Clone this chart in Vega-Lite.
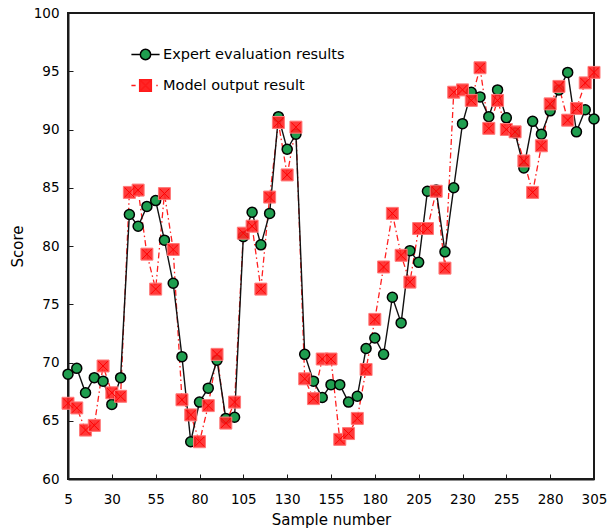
{
  "$schema": "https://vega.github.io/schema/vega-lite/v6.json",
  "width": 526,
  "height": 466,
  "autosize": {"type": "none"},
  "padding": {"left": 68, "top": 13, "right": 13, "bottom": 50},
  "background": "white",
  "config": {
    "view": {"stroke": "#1a1a1a", "strokeWidth": 2},
    "font": "DejaVu Sans",
    "axis": {
      "domainColor": "#1a1a1a", "domainWidth": 2, "tickColor": "#1a1a1a", "tickSize": -5, "tickWidth": 1,
      "grid": false, "labelFont": "DejaVu Sans", "labelFontSize": 13.5, "labelColor": "#000",
      "titleFont": "DejaVu Sans", "titleFontSize": 15, "titleFontWeight": "normal", "titleColor": "#000",
      "labelFlush": false, "labelOverlap": false
    },
    "axisX": {"labelPadding": 18, "titlePadding": 7},
    "axisY": {"labelPadding": 14, "titlePadding": 8},
    "legend": {
      "orient": "none", "legendX": 67, "legendY": 31, "symbolSize": 353, "labelOffset": 7,
      "rowPadding": 12, "labelFontSize": 14.5, "labelFont": "DejaVu Sans", "labelColor": "#000",
      "symbolStrokeWidth": 1.5, "padding": 0, "labelLimit": 0
    }
  },
  "datasets": {
    "scores": [
      {"sample": 5, "expert": 69.0, "model": 66.5},
      {"sample": 10, "expert": 69.5, "model": 66.1},
      {"sample": 15, "expert": 67.4, "model": 64.2},
      {"sample": 20, "expert": 68.7, "model": 64.6},
      {"sample": 25, "expert": 68.4, "model": 69.7},
      {"sample": 30, "expert": 66.4, "model": 67.4},
      {"sample": 35, "expert": 68.7, "model": 67.1},
      {"sample": 40, "expert": 82.7, "model": 84.6},
      {"sample": 45, "expert": 81.7, "model": 84.8},
      {"sample": 50, "expert": 83.4, "model": 79.3},
      {"sample": 55, "expert": 83.9, "model": 76.3},
      {"sample": 60, "expert": 80.5, "model": 84.5},
      {"sample": 65, "expert": 76.8, "model": 79.7},
      {"sample": 70, "expert": 70.5, "model": 66.8},
      {"sample": 75, "expert": 63.2, "model": 65.5},
      {"sample": 80, "expert": 66.6, "model": 63.2},
      {"sample": 85, "expert": 67.8, "model": 66.3},
      {"sample": 90, "expert": 70.2, "model": 70.7},
      {"sample": 95, "expert": 65.2, "model": 64.8},
      {"sample": 100, "expert": 65.3, "model": 66.6},
      {"sample": 105, "expert": 80.8, "model": 81.1},
      {"sample": 110, "expert": 82.9, "model": 81.7},
      {"sample": 115, "expert": 80.1, "model": 76.3},
      {"sample": 120, "expert": 82.8, "model": 84.2},
      {"sample": 125, "expert": 91.1, "model": 90.6},
      {"sample": 130, "expert": 88.3, "model": 86.1},
      {"sample": 135, "expert": 89.6, "model": 90.2},
      {"sample": 140, "expert": 70.7, "model": 68.6},
      {"sample": 145, "expert": 68.4, "model": 66.9},
      {"sample": 150, "expert": 67.0, "model": 70.3},
      {"sample": 155, "expert": 68.1, "model": 70.3},
      {"sample": 160, "expert": 68.1, "model": 63.4},
      {"sample": 165, "expert": 66.6, "model": 63.9},
      {"sample": 170, "expert": 67.1, "model": 65.2},
      {"sample": 175, "expert": 71.2, "model": 69.4},
      {"sample": 180, "expert": 72.1, "model": 73.7},
      {"sample": 185, "expert": 70.7, "model": 78.2},
      {"sample": 190, "expert": 75.6, "model": 82.8},
      {"sample": 195, "expert": 73.4, "model": 79.2},
      {"sample": 200, "expert": 79.6, "model": 76.9},
      {"sample": 205, "expert": 78.6, "model": 81.5},
      {"sample": 210, "expert": 84.7, "model": 81.5},
      {"sample": 215, "expert": 84.8, "model": 84.7},
      {"sample": 220, "expert": 79.5, "model": 78.1},
      {"sample": 225, "expert": 85.0, "model": 93.2},
      {"sample": 230, "expert": 90.5, "model": 93.4},
      {"sample": 235, "expert": 93.2, "model": 92.5},
      {"sample": 240, "expert": 92.8, "model": 95.3},
      {"sample": 245, "expert": 91.1, "model": 90.1},
      {"sample": 250, "expert": 93.4, "model": 92.5},
      {"sample": 255, "expert": 91.0, "model": 90.0},
      {"sample": 260, "expert": 89.7, "model": 89.8},
      {"sample": 265, "expert": 86.7, "model": 87.3},
      {"sample": 270, "expert": 90.7, "model": 84.6},
      {"sample": 275, "expert": 89.6, "model": 88.6},
      {"sample": 280, "expert": 91.6, "model": 92.2},
      {"sample": 285, "expert": 93.4, "model": 93.7},
      {"sample": 290, "expert": 94.9, "model": 90.8},
      {"sample": 295, "expert": 89.8, "model": 91.8},
      {"sample": 300, "expert": 91.7, "model": 94.0},
      {"sample": 305, "expert": 90.9, "model": 94.9}
    ],
    "legend": [
      {"series": "Expert evaluation results"},
      {"series": "Model output result"}
    ]
  },
  "layer": [
    {
      "data": {"name": "scores"},
      "mark": {"type": "line", "color": "#ff1f1f", "strokeDash": [6, 3, 1.5, 3], "strokeWidth": 1.3},
      "encoding": {
        "x": {"field": "sample", "type": "quantitative", "title": "Sample number", "scale": {"domain": [5, 305], "nice": false, "zero": false}, "axis": {"values": [5, 30, 55, 80, 105, 130, 155, 180, 205, 230, 255, 280, 305]}},
        "y": {"field": "model", "type": "quantitative", "title": "Score", "scale": {"domain": [60, 100], "nice": false, "zero": false}, "axis": {"values": [60, 65, 70, 75, 80, 85, 90, 95, 100]}}
      }
    },
    {
      "data": {"name": "scores"},
      "mark": {"type": "line", "color": "#111111", "strokeWidth": 1.4},
      "encoding": {
        "x": {"field": "sample", "type": "quantitative", "title": "Sample number"},
        "y": {"field": "expert", "type": "quantitative", "title": "Score"}
      }
    },
    {
      "data": {"name": "scores"},
      "mark": {"type": "point", "shape": "circle", "size": 100, "filled": true, "fill": "#1f9e4f", "stroke": "#000000", "strokeWidth": 1.5, "opacity": 1},
      "encoding": {
        "x": {"field": "sample", "type": "quantitative", "title": "Sample number"},
        "y": {"field": "expert", "type": "quantitative", "title": "Score"}
      }
    },
    {
      "data": {"name": "scores"},
      "mark": {"type": "point", "shape": "square", "size": 144, "filled": true, "fill": "#ff2626", "fillOpacity": 0.9, "stroke": "#ff7a7a", "strokeWidth": 1, "opacity": 1},
      "encoding": {
        "x": {"field": "sample", "type": "quantitative", "title": "Sample number"},
        "y": {"field": "model", "type": "quantitative", "title": "Score"}
      }
    },
    {
      "data": {"name": "scores"},
      "mark": {"type": "point", "shape": "M-1,-1L1,1M-1,1L1,-1", "size": 90, "filled": false, "stroke": "#ff0000", "strokeWidth": 1, "opacity": 1},
      "encoding": {
        "x": {"field": "sample", "type": "quantitative", "title": "Sample number"},
        "y": {"field": "model", "type": "quantitative", "title": "Score"}
      }
    },
    {
      "data": {"name": "legend"},
      "transform": [{"filter": "datum.series == 'none'"}],
      "mark": {"type": "point", "filled": true, "size": 353, "strokeWidth": 1.5, "opacity": 1},
      "encoding": {
        "shape": {"field": "series", "type": "nominal", "title": null, "scale": {"domain": ["Expert evaluation results", "Model output result"], "range": ["M-1.5,0L-0.55,0M0.55,0L1.5,0M0.55,0A0.55,0.55,0,1,1,-0.55,0A0.55,0.55,0,1,1,0.55,0Z", "M-1.5,0L-1.05,0M1.15,0L1.3,0M-0.62,-0.62L0.62,-0.62L0.62,0.62L-0.62,0.62ZM-0.5,-0.5L0.5,0.5M-0.5,0.5L0.5,-0.5"]}},
        "fill": {"field": "series", "type": "nominal", "title": null, "scale": {"domain": ["Expert evaluation results", "Model output result"], "range": ["#1f9e4f", "#ff2626"]}},
        "stroke": {"field": "series", "type": "nominal", "title": null, "scale": {"domain": ["Expert evaluation results", "Model output result"], "range": ["#000000", "#ff1a1a"]}}
      }
    }
  ]
}
